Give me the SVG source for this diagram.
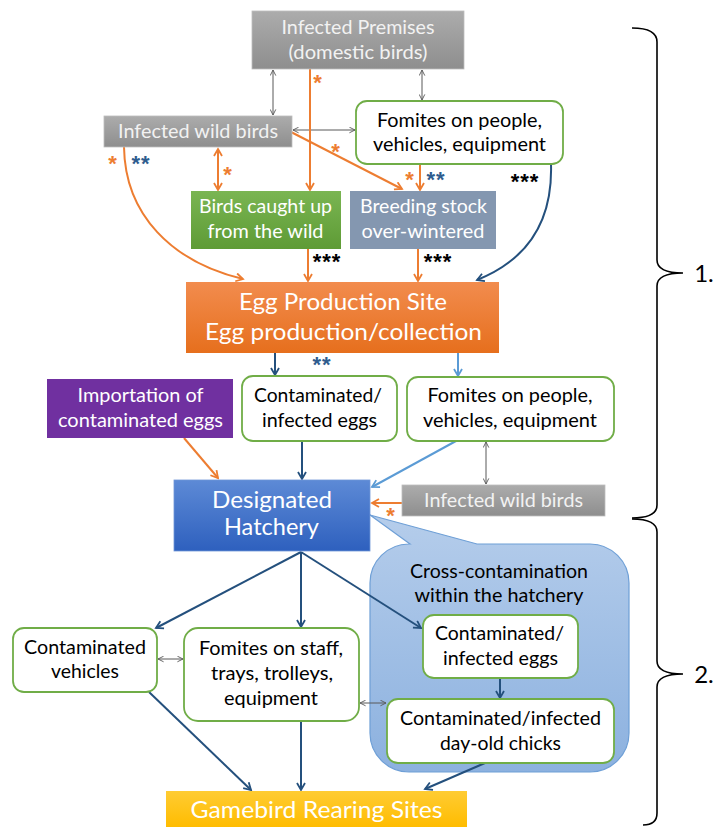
<svg xmlns="http://www.w3.org/2000/svg" width="726" height="827" viewBox="0 0 726 827">
<style>
text{font-family:"Lato","Liberation Sans",sans-serif;text-anchor:middle}
.t{font-size:19px}
.big{font-size:23px}
.w{fill:#ffffff}
.lg{fill:#f2f2f2}
.k{fill:#000000}
.gb{stroke:#70ad47;stroke-width:1.8;fill:#ffffff}
.or{stroke:#ed7d31;stroke-width:2;fill:none}
.db{stroke:#24507d;stroke-width:2;fill:none}
.lb{stroke:#5b9bd5;stroke-width:2;fill:none}
.gr{stroke:#595959;stroke-width:1;fill:none}
.ast{font-family:"Liberation Sans",sans-serif;font-weight:bold;font-size:22px;letter-spacing:1px}
.br{stroke:#000;stroke-width:1.6;fill:none}
</style>
<defs>
<linearGradient id="gGray" x1="0" y1="0" x2="0" y2="1"><stop offset="0" stop-color="#acacac"/><stop offset="1" stop-color="#8e8e8e"/></linearGradient>
<linearGradient id="gGreen" x1="0" y1="0" x2="0" y2="1"><stop offset="0" stop-color="#7ab552"/><stop offset="1" stop-color="#5e9b35"/></linearGradient>
<linearGradient id="gOrange" x1="0" y1="0" x2="0" y2="1"><stop offset="0" stop-color="#f28c4e"/><stop offset="1" stop-color="#e66f1d"/></linearGradient>
<linearGradient id="gBlue" x1="0" y1="0" x2="0" y2="1"><stop offset="0" stop-color="#5d8ad6"/><stop offset="1" stop-color="#2e60be"/></linearGradient>
<linearGradient id="gGold" x1="0" y1="0" x2="0" y2="1"><stop offset="0" stop-color="#ffcc33"/><stop offset="1" stop-color="#ffbc00"/></linearGradient>
<linearGradient id="gCall" x1="0" y1="0" x2="0" y2="1"><stop offset="0" stop-color="#b5cdeb"/><stop offset="1" stop-color="#8cb1df"/></linearGradient>
<marker id="aOr" viewBox="0 0 10 10" refX="8" refY="5" markerWidth="10" markerHeight="10" markerUnits="userSpaceOnUse" orient="auto-start-reverse"><path d="M1,1 L8,5 L1,9" fill="none" stroke="#ed7d31" stroke-width="1.8"/></marker>
<marker id="aDb" viewBox="0 0 10 10" refX="8" refY="5" markerWidth="10" markerHeight="10" markerUnits="userSpaceOnUse" orient="auto"><path d="M1,1 L8,5 L1,9" fill="none" stroke="#24507d" stroke-width="1.8"/></marker>
<marker id="aLb" viewBox="0 0 10 10" refX="8" refY="5" markerWidth="10" markerHeight="10" markerUnits="userSpaceOnUse" orient="auto"><path d="M1,1 L8,5 L1,9" fill="none" stroke="#5b9bd5" stroke-width="1.8"/></marker>
<marker id="aGr" viewBox="0 0 10 10" refX="9" refY="5" markerWidth="7" markerHeight="7" markerUnits="userSpaceOnUse" orient="auto-start-reverse"><path d="M1,1 L9,5 L1,9" fill="none" stroke="#595959" stroke-width="1.3"/></marker>
</defs>

<!-- callout background -->
<g id="callout">
<path d="M410,544 L370,515 L477,544 H590 A39,39 0 0 1 629,583 V733 A39,39 0 0 1 590,772 H409 A39,39 0 0 1 370,733 V583 A39,39 0 0 1 409,544 Z" fill="url(#gCall)" stroke="#6e9fd6" stroke-width="1.2"/>
<text class="t k" x="499" y="578" textLength="178" lengthAdjust="spacingAndGlyphs">Cross-contamination</text>
<text class="t k" x="499" y="602" textLength="169" lengthAdjust="spacingAndGlyphs">within the hatchery</text>
</g>

<g id="connectors">
<!-- gray double arrows -->
<line class="gr" x1="273" y1="70" x2="273" y2="115" marker-start="url(#aGr)" marker-end="url(#aGr)"/>
<line class="gr" x1="422" y1="70" x2="422" y2="100" marker-start="url(#aGr)" marker-end="url(#aGr)"/>
<line class="gr" x1="293" y1="130" x2="355" y2="130" marker-start="url(#aGr)" marker-end="url(#aGr)"/>
<line class="gr" x1="486" y1="442" x2="486" y2="484" marker-start="url(#aGr)" marker-end="url(#aGr)"/>
<line class="gr" x1="158" y1="659" x2="183" y2="659" marker-start="url(#aGr)" marker-end="url(#aGr)"/>
<line class="gr" x1="360" y1="703" x2="386" y2="703" marker-start="url(#aGr)" marker-end="url(#aGr)"/>
<!-- orange -->
<line class="or" x1="310" y1="69" x2="310" y2="190" marker-end="url(#aOr)"/>
<line class="or" x1="291" y1="132" x2="402" y2="189" marker-end="url(#aOr)"/>
<line class="or" x1="218" y1="149" x2="218" y2="190" marker-start="url(#aOr)" marker-end="url(#aOr)"/>
<path class="or" d="M124,147 C125,215 172,262 243,279" marker-end="url(#aOr)"/>
<line class="or" x1="420" y1="165" x2="420" y2="190" marker-end="url(#aOr)"/>
<line class="or" x1="308" y1="249" x2="308" y2="281" marker-end="url(#aOr)"/>
<line class="or" x1="418" y1="249" x2="418" y2="281" marker-end="url(#aOr)"/>
<line class="or" x1="184" y1="438" x2="218" y2="478" marker-end="url(#aOr)"/>
<line class="or" x1="402" y1="503" x2="372" y2="503" marker-end="url(#aOr)"/>
<!-- dark blue -->
<path class="db" d="M551,164 C553,228 522,262 477,280" marker-end="url(#aDb)"/>
<line class="db" x1="275" y1="353" x2="275" y2="375" marker-end="url(#aDb)"/>
<line class="db" x1="302" y1="441" x2="302" y2="479" marker-end="url(#aDb)"/>
<line class="db" x1="301" y1="552" x2="156" y2="628" marker-end="url(#aDb)"/>
<line class="db" x1="301" y1="552" x2="301" y2="627" marker-end="url(#aDb)"/>
<line class="db" x1="301" y1="552" x2="421" y2="628" marker-end="url(#aDb)"/>
<line class="db" x1="500" y1="678" x2="500" y2="698" marker-end="url(#aDb)"/>
<line class="db" x1="149" y1="692" x2="251" y2="790" marker-end="url(#aDb)"/>
<line class="db" x1="301" y1="721" x2="301" y2="790" marker-end="url(#aDb)"/>
<line class="db" x1="485" y1="763" x2="425" y2="789" marker-end="url(#aDb)"/>
<!-- light blue -->
<line class="lb" x1="458" y1="353" x2="458" y2="376" marker-end="url(#aLb)"/>
<line class="lb" x1="456" y1="441" x2="372" y2="487" marker-end="url(#aLb)"/>
<!-- asterisks -->
<text class="ast" fill="#ed7d31" x="318" y="90">*</text>
<text class="ast" fill="#ed7d31" x="336" y="159">*</text>
<text class="ast" fill="#ed7d31" x="228" y="182">*</text>
<text class="ast" fill="#ed7d31" x="113" y="171">*</text>
<text class="ast" fill="#2e5c8e" x="141" y="171">**</text>
<text class="ast" fill="#ed7d31" x="410" y="187">*</text>
<text class="ast" fill="#2e5c8e" x="436" y="187">**</text>
<text class="ast" fill="#000" x="525" y="189">***</text>
<text class="ast" fill="#000" x="327" y="269">***</text>
<text class="ast" fill="#000" x="438" y="269">***</text>
<text class="ast" fill="#2e5c8e" x="322" y="372">**</text>
<text class="ast" fill="#ed7d31" x="391" y="523">*</text>
</g>

<g id="infected-premises">
<rect x="252" y="11" width="212" height="58" fill="url(#gGray)" stroke="#bdbdbd" stroke-width="0.8"/>
<text class="t lg" x="358" y="34" textLength="153" lengthAdjust="spacingAndGlyphs">Infected Premises</text>
<text class="t lg" x="358" y="59" textLength="139" lengthAdjust="spacingAndGlyphs">(domestic birds)</text>
</g>
<g id="wild-birds-1">
<rect x="104" y="116" width="188" height="31" fill="url(#gGray)" stroke="#bdbdbd" stroke-width="0.8"/>
<text class="t lg" x="198" y="138" textLength="160" lengthAdjust="spacingAndGlyphs">Infected wild birds</text>
</g>
<g id="fomites-1">
<rect class="gb" x="356" y="101" width="207" height="63" rx="11"/>
<text class="t k" x="459.5" y="127" textLength="165" lengthAdjust="spacingAndGlyphs">Fomites on people,</text>
<text class="t k" x="459.5" y="151" textLength="173" lengthAdjust="spacingAndGlyphs">vehicles, equipment</text>
</g>
<g id="birds-caught">
<rect x="191" y="191" width="150" height="58" fill="url(#gGreen)"/>
<text class="t w" x="265.5" y="213" textLength="133" lengthAdjust="spacingAndGlyphs">Birds caught up</text>
<text class="t w" x="265.5" y="238" textLength="116" lengthAdjust="spacingAndGlyphs">from the wild</text>
</g>
<g id="breeding-stock">
<rect x="350" y="191" width="146" height="58" fill="#8497b0"/>
<text class="t w" x="423.5" y="213" textLength="127" lengthAdjust="spacingAndGlyphs">Breeding stock</text>
<text class="t w" x="423" y="238" textLength="123" lengthAdjust="spacingAndGlyphs">over-wintered</text>
</g>
<g id="egg-production">
<rect x="186" y="282" width="313" height="71" fill="url(#gOrange)"/>
<text class="big w" x="343" y="310" textLength="208" lengthAdjust="spacingAndGlyphs">Egg Production Site</text>
<text class="big w" x="343.5" y="340" textLength="277" lengthAdjust="spacingAndGlyphs">Egg production/collection</text>
</g>
<g id="importation">
<rect x="47" y="379" width="186" height="59" fill="#7030a0"/>
<text class="t w" x="140.5" y="402" textLength="126" lengthAdjust="spacingAndGlyphs">Importation of</text>
<text class="t w" x="140.5" y="427" textLength="165" lengthAdjust="spacingAndGlyphs">contaminated eggs</text>
</g>
<g id="contaminated-eggs-1">
<rect class="gb" x="242" y="376" width="155" height="65" rx="11"/>
<text class="t k" x="318" y="402" textLength="128" lengthAdjust="spacingAndGlyphs">Contaminated/</text>
<text class="t k" x="319.5" y="427" textLength="115" lengthAdjust="spacingAndGlyphs">infected eggs</text>
</g>
<g id="fomites-2">
<rect class="gb" x="407" y="377" width="207" height="64" rx="11"/>
<text class="t k" x="510" y="402" textLength="165" lengthAdjust="spacingAndGlyphs">Fomites on people,</text>
<text class="t k" x="510" y="427" textLength="174" lengthAdjust="spacingAndGlyphs">vehicles, equipment</text>
</g>
<g id="hatchery">
<rect x="174" y="480" width="196" height="71" fill="url(#gBlue)" stroke="#6f96d8" stroke-width="0.8"/>
<text class="big w" x="272" y="508" textLength="120" lengthAdjust="spacingAndGlyphs">Designated</text>
<text class="big w" x="271.5" y="535" textLength="95" lengthAdjust="spacingAndGlyphs">Hatchery</text>
</g>
<g id="wild-birds-2">
<rect x="402" y="485" width="203" height="31" fill="url(#gGray)" stroke="#bdbdbd" stroke-width="0.8"/>
<text class="t lg" x="503.5" y="507" textLength="159" lengthAdjust="spacingAndGlyphs">Infected wild birds</text>
</g>
<g id="contaminated-vehicles">
<rect class="gb" x="13" y="628" width="144" height="64" rx="11"/>
<text class="t k" x="85" y="654" textLength="122" lengthAdjust="spacingAndGlyphs">Contaminated</text>
<text class="t k" x="85" y="678" textLength="68" lengthAdjust="spacingAndGlyphs">vehicles</text>
</g>
<g id="fomites-staff">
<rect class="gb" x="184" y="628" width="175" height="93" rx="14"/>
<text class="t k" x="271" y="655" textLength="144" lengthAdjust="spacingAndGlyphs">Fomites on staff,</text>
<text class="t k" x="272" y="680" textLength="122" lengthAdjust="spacingAndGlyphs">trays, trolleys,</text>
<text class="t k" x="271" y="705" textLength="94" lengthAdjust="spacingAndGlyphs">equipment</text>
</g>
<g id="contaminated-eggs-2">
<rect class="gb" x="423" y="615" width="155" height="63" rx="11"/>
<text class="t k" x="499.5" y="640" textLength="129" lengthAdjust="spacingAndGlyphs">Contaminated/</text>
<text class="t k" x="500.5" y="665" textLength="115" lengthAdjust="spacingAndGlyphs">infected eggs</text>
</g>
<g id="day-old-chicks">
<rect class="gb" x="387" y="699" width="227" height="64" rx="11"/>
<text class="t k" x="500.5" y="725" textLength="201" lengthAdjust="spacingAndGlyphs">Contaminated/infected</text>
<text class="t k" x="500.5" y="750" textLength="121" lengthAdjust="spacingAndGlyphs">day-old chicks</text>
</g>
<g id="gamebird">
<rect x="166" y="791" width="301" height="36" fill="url(#gGold)"/>
<text class="big w" x="316.5" y="818" textLength="252" lengthAdjust="spacingAndGlyphs">Gamebird Rearing Sites</text>
</g>

<g id="brackets">
<path class="br" d="M632,28 Q657,28 657,42 V260 Q657,273 683,273 Q657,273 657,286 V505 Q657,518 632,518"/>
<path class="br" d="M632,519 Q657,519 657,532 V661 Q657,674 683,674 Q657,674 657,687 V813 Q657,825 643,825"/>
<text x="704" y="282" style="font-size:24px;fill:#000">1.</text>
<text x="704" y="683" style="font-size:24px;fill:#000">2.</text>
</g>
</svg>
